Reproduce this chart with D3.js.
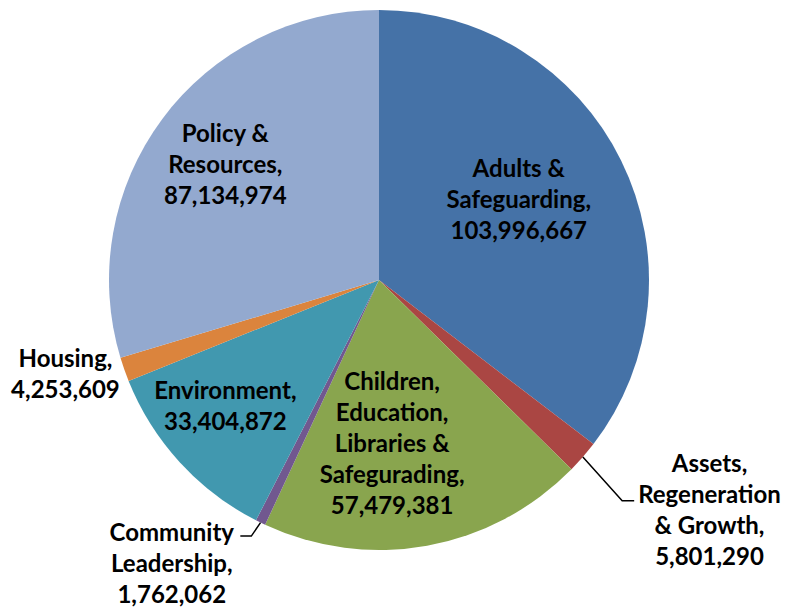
<!DOCTYPE html>
<html>
<head>
<meta charset="utf-8">
<script src="https://cdn.jsdelivr.net/npm/d3@7"></script>
<style>
  body { margin: 0; background: #fff; }
  svg { display: block; }
  text { font-family: Lato, "Open Sans", sans-serif; font-weight: bold; fill: #000; }
</style>
</head>
<body>
<svg></svg>
<script>
// directorate budgets
var categories = ['Adults & Safeguarding', 'Assets, Regeneration & Growth',
    'Children, Education, Libraries & Safegurading', 'Community Leadership',
    'Environment', 'Housing', 'Policy & Resources'];
var values = [103996667, 5801290, 57479381, 1762062, 33404872, 4253609, 87134974];
var colors = ['#4572A7', '#AA4643', '#89A54E', '#71588F', '#4198AF', '#DB843D', '#93A9CF'];

// how each label breaks into lines (the value is added as the last line)
var labelLines = [
    ['Adults &', 'Safeguarding,'],
    ['Assets,', 'Regeneration', '& Growth,'],
    ['Children,', 'Education,', 'Libraries &', 'Safegurading,'],
    ['Community', 'Leadership,'],
    ['Environment,'],
    ['Housing,'],
    ['Policy &', 'Resources,']
];

// label placement: angle (deg, clockwise from top) and distance from centre
var labelAngle = [59.6, 124.7, 175.4, 216.3, 230.9, 253.5, 307.2];
var labelDist = [162, 402, 163.5, 350, 198, 327, 193];

var svgWidth = 785, svgHeight = 607;
var cx = 379, cy = 280, radius = 270;
var lineH = 31;

var data = categories.map(function(c, i) {
    return { name: c, value: values[i], color: colors[i], lines: labelLines[i].concat([d3.format(',')(values[i])]) };
});

var svg = d3.select('svg')
    .attr('width', svgWidth)
    .attr('height', svgHeight);

var g = svg.append('g')
    .attr('transform', 'translate(' + cx + ',' + cy + ')');

var pie = d3.pie()
    .sort(null)
    .value(function(d) { return d.value; });

var arc = d3.arc()
    .innerRadius(0)
    .outerRadius(radius);

var arcs = pie(data);

g.selectAll('path.slice')
    .data(arcs)
    .enter().append('path')
    .attr('class', 'slice')
    .attr('fill', function(d) { return d.data.color; })
    .attr('d', arc);

// labels
var labels = g.selectAll('g.label')
    .data(arcs)
    .enter().append('g')
    .attr('class', 'label')
    .attr('transform', function(d, i) {
        var a = labelAngle[i] * Math.PI / 180;
        return 'translate(' + (labelDist[i] * Math.sin(a)) + ',' + (-labelDist[i] * Math.cos(a)) + ')';
    });

labels.each(function(d) {
    var n = d.data.lines.length;
    d3.select(this).selectAll('text')
        .data(d.data.lines)
        .enter().append('text')
        .attr('text-anchor', 'middle')
        .attr('dominant-baseline', 'central')
        .attr('y', function(t, j) { return (j - (n - 1) / 2) * lineH; })
        .style('font-size', '24px')
        .text(function(t) { return t; });
});

// leader lines for the two thin slices
function edgePoint(d) {
    var a = (d.startAngle + d.endAngle) / 2;
    return [radius * Math.sin(a), -radius * Math.cos(a)];
}

labels.each(function(d, i) {
    var name = d.data.name;
    if (name !== 'Assets, Regeneration & Growth' && name !== 'Community Leadership') return;
    var box = this.getBBox();
    var m = this.transform.baseVal.consolidate().matrix;
    var start = edgePoint(d), end, elbow;
    var n = d.data.lines.length;
    var firstY = m.f - (n - 1) / 2 * lineH;
    if (name === 'Assets, Regeneration & Growth') {
        end = [m.e + box.x - 4, m.f - 8];
        elbow = [end[0] - 12, end[1]];
    } else {
        end = [m.e + box.x + box.width + 6, firstY + 5];
        elbow = [end[0] + 11, end[1]];
    }
    g.append('path')
        .attr('fill', 'none')
        .attr('stroke', '#000')
        .attr('stroke-width', 1.5)
        .attr('d', d3.line()([start, elbow, end]));
});
</script>
</body>
</html>
